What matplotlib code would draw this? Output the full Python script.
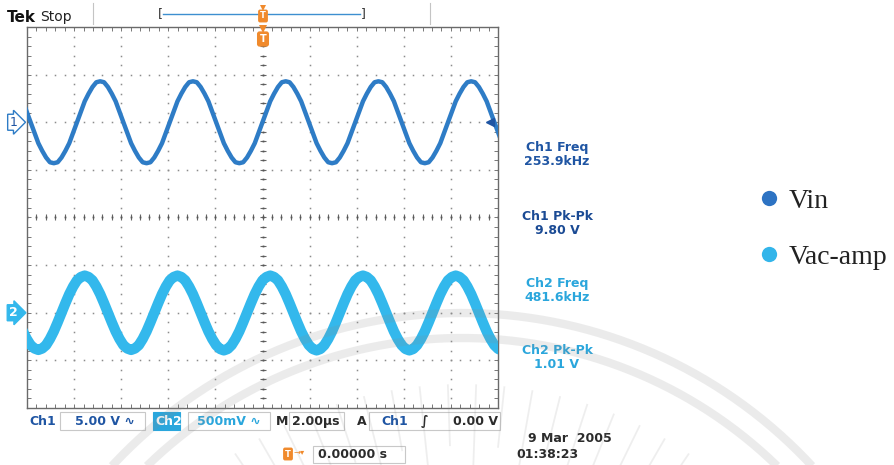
import numpy as np
import matplotlib
matplotlib.use('Agg')
import matplotlib.pyplot as plt
from matplotlib.lines import Line2D
from matplotlib.patches import Rectangle
from matplotlib.ticker import MultipleLocator

# scope readouts
ch1_freq_khz = 253.9
ch2_freq_khz = 481.6
ch1_pkpk_v = 9.80
ch2_pkpk_v = 1.01
ch1_volts_div = 5.0
ch2_volts_div = 0.5
time_div_us = 2.0
trig_level_v = 0.0
ch1_offset_div = 2
ch2_offset_div = -2

series_names = ['Vin', 'Vac-amp']

# traces, 24 samples per Ch1 cycle (one row per cycle)
vin_v = [
    2.2, 1.1, 0.0, -1.1, -2.2, -3.0, -3.7, -4.2, -4.3, -4.2, -3.7, -3.0, -2.2, -1.1,
    0.0, 1.1, 2.2, 3.0, 3.7, 4.2, 4.3, 4.2, 3.7, 3.0, 2.2, 1.1, 0.0, -1.1, -2.2, -3.0, -3.7, -4.2, -4.3, -4.2, -3.7, -3.0, -2.2, -1.1,
    0.0, 1.1, 2.2, 3.0, 3.7, 4.2, 4.3, 4.2, 3.7, 3.0, 2.2, 1.1, 0.0, -1.1, -2.2, -3.0, -3.7, -4.2, -4.3, -4.2, -3.7, -3.0, -2.2, -1.1,
    0.0, 1.1, 2.2, 3.0, 3.7, 4.2, 4.3, 4.2, 3.7, 3.0, 2.2, 1.1, 0.0, -1.1, -2.2, -3.0, -3.7, -4.2, -4.3, -4.2, -3.7, -3.0, -2.2, -1.1,
    0.0, 1.1, 2.2, 3.0, 3.7, 4.2, 4.3, 4.2, 3.7, 3.0, 2.2, 1.1, 0.0, -1.1, -2.2, -3.0, -3.7, -4.2, -4.3, -4.2, -3.7, -3.0, -2.2, -1.1,
    0.0, 1.1, 2.2, 3.0, 3.7, 4.2, 4.3, 4.2, 3.7, 3.0, 2.2, 1.1, 0.0, -1.1, -2.2,
]
vac_mv = [
    -195, -275, -340, -375, -390, -375, -340, -275, -195, -100, 0, 100, 195, 275,
    340, 375, 390, 375, 340, 275, 195, 100, 0, -100, -195, -275, -340, -375, -390, -375, -340, -275, -195, -100, 0, 100, 195, 275,
    340, 375, 390, 375, 340, 275, 195, 100, 0, -100, -195, -275, -340, -380, -395, -380, -340, -275, -195, -100, 0, 100, 195, 275,
    340, 375, 390, 375, 340, 275, 195, 100, 0, -100, -195, -275, -340, -380, -395, -380, -340, -275, -195, -100, 0, 100, 195, 275,
    340, 375, 390, 375, 340, 275, 195, 100, 0, -100, -195, -275, -340, -380, -395, -380, -340, -275, -195, -100, 0, 100, 195, 275,
    340, 375, 390, 375, 340, 275, 195, 100, 0, -100, -195, -275, -340, -380, -395,
]

samples_per_cycle = 24
sample_step_us = 1000.0 / ch1_freq_khz / samples_per_cycle
time_us = (np.arange(len(vin_v)) - 62) * sample_step_us

c1 = '#2e7cc6'
c2 = '#33b8ec'
c1_txt = '#1f55a3'
c2_txt = '#2aa6dc'
dark = '#2b2b2b'
grid_c = '#8c8c8c'

fig = plt.figure(figsize=(8.94, 4.65), dpi=100)
ax = fig.add_axes([27 / 894, 57 / 465, 471 / 894, 381 / 465])
ax.set_xlim(-5 * time_div_us, 5 * time_div_us)
ax.set_ylim(-4, 4)
ax.patch.set_alpha(0)
for s in ax.spines.values():
    s.set_color('#6a6a6a')
    s.set_linewidth(1)
ax.xaxis.set_major_locator(MultipleLocator(time_div_us / 5))
ax.yaxis.set_major_locator(MultipleLocator(0.2))
ax.tick_params(axis='both', direction='in', length=3, width=0.7, color='#777777',
               top=True, right=True, labelbottom=False, labelleft=False)

# graticule dots
ydots = np.arange(-4, 4.01, 0.2)
xdots = np.arange(-10, 10.01, 0.4)
for xv in [-8, -6, -4, -2, 2, 4, 6, 8]:
    ax.plot([xv] * len(ydots), ydots, ls='none', marker='s', ms=1.1, mew=0, color=grid_c, zorder=1)
for yv in [-3, -2, -1, 1, 2, 3]:
    ax.plot(xdots, [yv] * len(xdots), ls='none', marker='s', ms=1.1, mew=0, color=grid_c, zorder=1)
# centre cross with ticks
ax.plot([0] * len(ydots), ydots, ls='none', marker='_', ms=5, mew=0.8, color='#666666', zorder=1)
ax.plot(xdots, [0] * len(xdots), ls='none', marker='|', ms=5, mew=0.8, color='#666666', zorder=1)
ax.plot([0] * len(ydots), ydots, ls='none', marker='s', ms=1.3, mew=0, color='#555555', zorder=1)
ax.plot(xdots, [0] * len(xdots), ls='none', marker='s', ms=1.3, mew=0, color='#555555', zorder=1)

# traces
ax.plot(time_us, np.array(vac_mv) / 1000 / ch2_volts_div + ch2_offset_div,
        color=c2, lw=7.5, solid_joinstyle='round', zorder=4)
ax.plot(time_us, np.array(vin_v) / ch1_volts_div + ch1_offset_div,
        color=c1, lw=3.2, solid_joinstyle='round', zorder=5)

# channel ground markers and trigger level marker
ax.annotate('1', xy=(0, ch1_offset_div), xycoords=('axes fraction', 'data'),
            xytext=(-10, 0), textcoords='offset points', ha='center', va='center',
            fontsize=9, color=c1_txt, annotation_clip=False,
            bbox=dict(boxstyle='rarrow,pad=0.12', fc='white', ec=c1, lw=1))
ax.annotate('2', xy=(0, ch2_offset_div), xycoords=('axes fraction', 'data'),
            xytext=(-10, 0), textcoords='offset points', ha='center', va='center',
            fontsize=9, color='white', weight='bold', annotation_clip=False,
            bbox=dict(boxstyle='rarrow,pad=0.12', fc=c2, ec=c2, lw=1))
ax.plot(9.65, ch1_offset_div + trig_level_v / ch1_volts_div, marker='<', ms=6,
        color='#1f55a3', clip_on=False, zorder=6)

# overlay in pixel units for the surrounding readouts
deco = fig.add_axes([0, 0, 1, 1], zorder=10)
deco.set_xlim(0, 894)
deco.set_ylim(465, 0)
deco.axis('off')
deco.patch.set_alpha(0)

txt = dict(family='DejaVu Sans', weight='bold', fontsize=9, va='center')

deco.text(7, 17, 'Tek', family='DejaVu Sans', weight='bold', fontsize=11, color='#111111', va='center')
deco.text(40, 17, 'Stop', family='DejaVu Sans', fontsize=10, color='#222222', va='center')
for xs in [93, 430]:
    deco.plot([xs, xs], [3, 24], color='#c4c4c4', lw=0.8)
deco.plot([163, 360], [14, 14], color='#3d8fd0', lw=1)
deco.text(160, 14, '[', fontsize=9, color='#333333', ha='center', va='center')
deco.text(363, 14, ']', fontsize=9, color='#333333', ha='center', va='center')
deco.plot(263, 8, marker='v', ms=5, color='#f08a2c', mew=0)
deco.text(263, 16, 'T', fontsize=6, weight='bold', color='white', ha='center', va='center',
          bbox=dict(boxstyle='round,pad=0.15', fc='#f08a2c', ec='#f08a2c'))
deco.plot(263, 29, marker='v', ms=6, color='#f08a2c', mew=0)
deco.text(263, 39, 'T', fontsize=7, weight='bold', color='white', ha='center', va='center',
          bbox=dict(boxstyle='round,pad=0.2', fc='#f08a2c', ec='#f08a2c'))

# measurement readouts
deco.text(557, 147, 'Ch1 Freq', color=c1_txt, ha='center', **txt)
deco.text(557, 161, f'{ch1_freq_khz:.1f}kHz', color=c1_txt, ha='center', **txt)
deco.text(557, 216, 'Ch1 Pk-Pk', color='#1a4a94', ha='center', **txt)
deco.text(557, 230, f'{ch1_pkpk_v:.2f} V', color='#1a4a94', ha='center', **txt)
deco.text(557, 283, 'Ch2 Freq', color=c2_txt, ha='center', **txt)
deco.text(557, 297, f'{ch2_freq_khz:.1f}kHz', color=c2_txt, ha='center', **txt)
deco.text(557, 350, 'Ch2 Pk-Pk', color=c2_txt, ha='center', **txt)
deco.text(557, 364, f'{ch2_pkpk_v:.2f} V', color=c2_txt, ha='center', **txt)

# status line
for x0, x1 in [(60, 145), (188, 270), (289, 344), (369, 500)]:
    deco.add_patch(Rectangle((x0, 412), x1 - x0, 18, fc='none', ec='#c8c8c8', lw=0.8))
deco.add_patch(Rectangle((153, 412), 27, 18, fc=c2_txt, ec=c2_txt, lw=0.8))
deco.text(29, 421, 'Ch1', color=c1_txt, **txt)
deco.text(75, 421, f'{ch1_volts_div:.2f} V \u223f', color=c1_txt, **txt)
deco.text(155, 421, 'Ch2', color='white', **txt)
deco.text(197, 421, f'{ch2_volts_div * 1000:.0f}mV \u223f', color=c2_txt, **txt)
deco.text(276, 421, 'M', color=dark, **txt)
deco.text(292, 421, f'{time_div_us:.2f}\u00b5s', color=dark, **txt)
deco.text(357, 421, 'A', color=dark, **txt)
deco.text(381, 421, 'Ch1', color=c1_txt, **txt)
deco.text(421, 421, '\u222b', color=dark, **txt)
deco.text(498, 421, f'{trig_level_v:.2f} V', color=dark, ha='right', **txt)

deco.text(612, 438, '9 Mar  2005', color=dark, ha='right', **txt)
deco.text(516, 454, '01:38:23', color=dark, **txt)
deco.add_patch(Rectangle((313, 446), 92, 17, fc='none', ec='#c8c8c8', lw=0.8))
deco.text(318, 454, '0.00000 s', color=dark, **txt)
deco.text(288, 454, 'T', fontsize=6, weight='bold', color='white', ha='center', va='center',
          bbox=dict(boxstyle='round,pad=0.15', fc='#f08a2c', ec='#f08a2c'))
deco.text(294, 453, '\u2192\u25be', fontsize=6, color='#f08a2c', va='center')

# faint watermark
cx, cy = 462, 790
th = np.radians(np.linspace(20, 160, 300))
for r in [477, 452]:
    deco.plot(cx + r * np.cos(th), cy - r * np.sin(th), color='#8c8c8c', lw=6, alpha=0.17,
              solid_capstyle='butt', zorder=20)
for i, a in enumerate(np.radians(np.arange(52, 129, 4))):
    r0 = 320 if i % 2 else 345
    deco.plot([cx + r0 * np.cos(a), cx + 405 * np.cos(a)],
              [cy - r0 * np.sin(a), cy - 405 * np.sin(a)], color='#8c8c8c', lw=1.3, alpha=0.14, zorder=20)

# legend
handles = [Line2D([], [], ls='none', marker='o', ms=11, mew=0, color=c) for c in ['#2d73c3', '#33b5ea']]
fig.legend(handles, series_names, loc='center left', bbox_to_anchor=(761 / 894, 1 - 229 / 465),
           frameon=False, prop=dict(family='Liberation Serif', size=20), labelcolor='#222222',
           handlelength=0.6, handletextpad=0.4, labelspacing=1.1, borderpad=0, borderaxespad=0)

fig.savefig('out.png', dpi=100)
